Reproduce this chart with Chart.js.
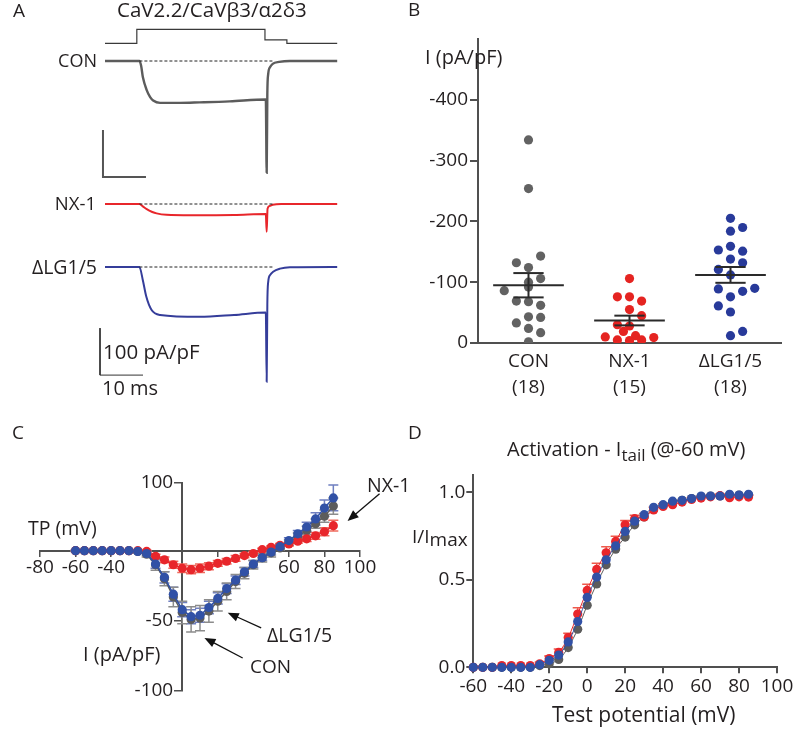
<!DOCTYPE html>
<html>
<head>
<meta charset="utf-8">
<title>CaV2.2/CaVβ3/α2δ3 currents</title>
<script src="https://cdn.jsdelivr.net/npm/chart.js@4.4.1/dist/chart.umd.min.js"></script>
<style>
  html, body { margin: 0; padding: 0; background: #fff; }
  body { position: relative; width: 800px; height: 737px; overflow: hidden; font-family: 'Open Sans', sans-serif; color: #231f20; }
  canvas { position: absolute; }
  .lbl { position: absolute; white-space: nowrap; }
  .lbl sub { font-size: 0.85em; vertical-align: -0.28em; line-height: 0; }
</style>
</head>
<body>
<canvas id="panelA" width="400" height="400" style="left:0;top:0"></canvas>
<canvas id="panelB" width="400" height="400" style="left:400px;top:0"></canvas>
<canvas id="panelC" width="400" height="337" style="left:0;top:400px"></canvas>
<canvas id="panelD" width="400" height="337" style="left:400px;top:400px"></canvas>
<script>
// ---------------- data ----------------

// A: example traces, time (ms) / current density (pA/pF)
const conTraceMs = [0, 8, 8.4, 8.8, 9.7, 10.5, 11.2, 12.8, 17.4, 22, 29, 37.4, 37.6, 37.75, 37.95, 38.4, 39, 40.5, 43, 54];
const conTracePA = [0, 0, -10, -34, -62, -77, -84, -89, -89, -88, -86, -82, -238, -70, -28, -13, -6, -2, 0, 0];
const nxTraceMs = [0, 8, 8.8, 9.7, 11, 12, 14.3, 20, 30, 37.4, 37.6, 37.8, 38.3, 39, 41, 54];
const nxTracePA = [0, 0, -5, -11, -17, -20, -23, -24, -23.5, -21.5, -59, -10, -4, -1.5, 0, 0];
const lgTraceMs = [0, 8, 8.8, 9.6, 10.8, 12.8, 22, 30, 37.4, 37.6, 37.75, 37.95, 38.4, 39.1, 40.7, 43, 54];
const lgTracePA = [0, 0, -28, -63, -91, -102, -106, -102, -97, -244, -80, -32, -17, -10, -3.5, -0.5, 0];
// voltage protocol (mV)
const stepMs = [0, 7.4, 7.4, 37.2, 37.2, 42.3, 42.3, 54];
const stepMV = [-80, -80, 0, 0, -60, -60, -80, -80];
const barMs = 10, barPA = 100;

// B: peak current density per cell
const groups = ['CON', 'NX-1', 'ΔLG1/5'];
const groupN = [18, 15, 18];
const conValues = [-334, -254, -143, -132, -124, -106, -100, -92, -86, -69, -68, -62, -43, -42, -33, -24, -17, -2];
const nxValues = [-106, -76, -76, -69, -55, -45, -30, -28, -19, -12, -10, -9, -5, -4, -5];
const lgValues = [-205, -190, -184, -159, -153, -151, -138, -132, -121, -112, -90, -89, -85, -76, -61, -51, -19, -12];
const groupMeans = [-95, -37, -112];
const groupSems = [20, 8, 13];
const bTicks = [0, -100, -200, -300, -400];

// C: I-V relation
const testMV = [-60, -55, -50, -45, -40, -35, -30, -25, -20, -15, -10, -5, 0, 5, 10, 15, 20, 25, 30, 35, 40, 45, 50, 55, 60, 65, 70, 75, 80, 85];
const ivCon = [0, 0, 0, 0, 0, 0, 0, -0.5, -2.5, -10, -20, -33, -44, -49, -48, -43, -36, -29, -22, -16, -10, -5, -1.5, 4, 12, 21, 30, 40, 51, 66];
const ivConSem = [0.5, 0.5, 0.5, 0.5, 0.5, 0.5, 0.5, 1, 2, 4, 5, 7, 8, 9, 9, 8, 7, 6, 5, 4, 3, 3, 3, 3, 4, 5, 6, 7, 9, 12];
const ivNx = [0, 0, 0, 0, 0, 0, 0, 0, -0.5, -4, -6.5, -10, -12.5, -13.5, -12.5, -11, -9, -7.5, -5.5, -3.5, -2, 1.5, 5, 8, 10, 14, 17.5, 22, 28, 37];
const ivNxSem = [0.3, 0.3, 0.3, 0.3, 0.3, 0.3, 0.3, 0.5, 1, 1.5, 2, 2.5, 3, 3, 3, 2.5, 2, 2, 2, 1.5, 1.5, 2, 2, 2.5, 3, 3, 4, 5, 6, 8];
const ivLg = [0, 0, 0, 0, 0, 0, 0, -0.5, -2, -9.5, -19, -31, -42, -47, -46, -40.5, -34, -27, -21, -15, -9.5, -5, -1, 6, 15, 25, 35, 47, 63, 78];
const ivLgSem = [0.5, 0.5, 0.5, 0.5, 0.5, 0.5, 0.5, 1, 1.5, 3, 4, 5, 5, 5, 5, 4.5, 4, 3.5, 3, 3, 2.5, 2, 2, 3, 4, 5, 7, 9, 12, 19];
const cTicksX = [-80, -60, -40, -20, 20, 40, 60, 80, 100];
const cTickLabelsX = [-80, -60, -40, 60, 80, 100];
const cTicksY = [100, -50, -100];

// D: activation (tail current at -60 mV)
const actCon = [0, 0, 0, 0, 0, 0, 0, 0.01, 0.02, 0.045, 0.113, 0.218, 0.355, 0.477, 0.586, 0.676, 0.745, 0.815, 0.86, 0.905, 0.925, 0.945, 0.955, 0.965, 0.975, 0.98, 0.98, 0.985, 0.985, 0.985];
const actNx = [0, 0, 0, 0.01, 0.01, 0.01, 0.01, 0.02, 0.05, 0.085, 0.17, 0.305, 0.44, 0.56, 0.655, 0.72, 0.815, 0.85, 0.86, 0.9, 0.92, 0.93, 0.945, 0.96, 0.968, 0.975, 0.982, 0.97, 0.975, 0.974];
const actNxSem = [0, 0, 0, 0, 0, 0, 0, 0.01, 0.015, 0.02, 0.025, 0.035, 0.035, 0.035, 0.035, 0.03, 0.025, 0.02, 0.02, 0.015, 0.015, 0.01, 0.01, 0.01, 0.01, 0.01, 0.01, 0.01, 0.01, 0.01];
const actLg = [0, 0, 0, 0, 0, 0, 0, 0.015, 0.04, 0.07, 0.145, 0.262, 0.4, 0.516, 0.615, 0.695, 0.777, 0.836, 0.873, 0.915, 0.93, 0.95, 0.955, 0.965, 0.98, 0.98, 0.98, 0.99, 0.985, 0.99];
const dTicksX = [-60, -40, -20, 0, 20, 40, 60, 80, 100];
const dTicksY = [0, 0.5, 1];

// ---------------- style ----------------
const ink = '#231f20';
const axisInk = '#505050';
const grey = '#5c5c5c', red = '#e8262b', blue = '#3151a6';
Chart.defaults.font.family = "'Open Sans', sans-serif";
Chart.defaults.font.size = 19;
Chart.defaults.color = ink;
Chart.defaults.animation = false;
Chart.defaults.responsive = false;
Chart.defaults.plugins.legend.display = false;
Chart.defaults.plugins.tooltip.enabled = false;
const flatTicks = { autoSkip: false, maxRotation: 0, minRotation: 0 };

const xy = (xs, ys) => xs.map((x, i) => ({ x: x, y: ys[i] }));

// y axis that is scaled differently above and below zero (as in panel C)
class SplitLinearScale extends Chart.LinearScale {
  getPixelForValue(value) {
    const p = this.options.pivot;
    const dec = value < 0 ? p * (value - this.min) / -this.min : p + (1 - p) * value / this.max;
    return this.getPixelForDecimal(dec);
  }
  getValueForPixel(pixel) {
    const p = this.options.pivot, dec = this.getDecimalForPixel(pixel);
    return dec < p ? this.min - this.min * dec / p : this.max * (dec - p) / (1 - p);
  }
}
SplitLinearScale.id = 'splitLinear';
Chart.register(SplitLinearScale);

const errorBars = {
  id: 'errorBars',
  beforeDatasetsDraw(chart) {
    const ctx = chart.ctx;
    chart.data.datasets.forEach((ds, i) => {
      if (!ds.errors) return;
      const meta = chart.getDatasetMeta(i);
      const ys = chart.scales[meta.yAxisID];
      ctx.save();
      ctx.strokeStyle = ds.errorColor;
      ctx.lineWidth = 1.5;
      meta.data.forEach((pt, j) => {
        const e = ds.errors[j];
        if (!e) return;
        const v = ds.data[j].y;
        const top = ys.getPixelForValue(v + e);
        const bot = ys.getPixelForValue(ds.upOnly ? v : v - e);
        ctx.beginPath();
        ctx.moveTo(pt.x, top); ctx.lineTo(pt.x, bot);
        ctx.moveTo(pt.x - 5, top); ctx.lineTo(pt.x + 5, top);
        if (!ds.upOnly) { ctx.moveTo(pt.x - 5, bot); ctx.lineTo(pt.x + 5, bot); }
        ctx.stroke();
      });
      ctx.restore();
    });
  }
};

// ---------------- A ----------------
const pxPerMs = 4.3, pxPerPA = 0.47, pxPerMV = 0.175;
function hiddenY(basePx, pxPerUnit, baseValue) {
  const max = baseValue + basePx / pxPerUnit;
  return { type: 'linear', axis: 'y', display: false, min: max - 400 / pxPerUnit, max: max };
}
const traceLine = (data, axis, color, width) => ({
  data: data, yAxisID: axis, borderColor: color, borderWidth: width,
  pointRadius: 0, cubicInterpolationMode: 'monotone', clip: false
});
const dashed = axis => ({
  data: xy([8, 39], [0, 0]), yAxisID: axis, borderColor: '#222', borderWidth: 1,
  borderDash: [3, 2], pointRadius: 0
});
const scaleBar = (axis, t0, i0, color, width) => ({
  data: xy([t0, t0, t0 + barMs], [i0, i0 - barPA, i0 - barPA]), yAxisID: axis,
  borderColor: color, borderWidth: width, pointRadius: 0, tension: 0
});

new Chart(document.getElementById('panelA'), {
  type: 'line',
  data: {
    datasets: [
      dashed('yCon'), dashed('yNx'), dashed('yLg'),
      traceLine(xy(conTraceMs, conTracePA), 'yCon', grey, 2.4),
      traceLine(xy(nxTraceMs, nxTracePA), 'yNx', red, 2),
      traceLine(xy(lgTraceMs, lgTracePA), 'yLg', '#353d9a', 2),
      { data: xy(stepMs, stepMV), yAxisID: 'yStep', borderColor: '#3a3a3a', borderWidth: 1.2, pointRadius: 0, tension: 0 },
      scaleBar('yCon', -0.47, -147, '#555', 2),
      scaleBar('yLg', -1.16, -130, '#333', 1)
    ]
  },
  options: {
    layout: { padding: 0 },
    scales: {
      x: { type: 'linear', display: false, min: -105 / pxPerMs, max: -105 / pxPerMs + 400 / pxPerMs },
      yCon: hiddenY(61, pxPerPA, 0),
      yNx: hiddenY(204, pxPerPA, 0),
      yLg: hiddenY(267, pxPerPA, 0),
      yStep: hiddenY(43.3, pxPerMV, -80)
    }
  }
});

// ---------------- B ----------------
const conSpread = [0, 0, 0.12, -0.12, 0, 0.12, 0, 0, -0.24, -0.12, 0, 0.12, 0, 0.12, -0.12, 0, 0.12, 0];
const nxSpread = [0, -0.12, 0, 0.12, 0, 0.12, -0.12, 0, -0.06, 0.06, -0.24, 0.24, -0.12, 0, 0.12];
const lgSpread = [0, 0.12, 0, 0, -0.12, 0.12, 0, 0.12, -0.12, 0, 0.24, -0.12, 0.12, 0, -0.12, 0, 0.12, 0];
const dots = (vals, spread, group, color) => ({
  data: vals.map((v, i) => ({ x: group + spread[i], y: v })),
  backgroundColor: color, borderWidth: 0, pointRadius: 4.6
});

const meanSem = {
  id: 'meanSem',
  afterDatasetsDraw(chart) {
    const { ctx, scales: { x, y } } = chart;
    const seg = (x1, y1, x2, y2) => {
      ctx.beginPath();
      ctx.moveTo(x.getPixelForValue(x1), y.getPixelForValue(y1));
      ctx.lineTo(x.getPixelForValue(x2), y.getPixelForValue(y2));
      ctx.stroke();
    };
    ctx.save();
    ctx.strokeStyle = '#2a2a2a';
    ctx.lineWidth = 2;
    groupMeans.forEach((m, i) => {
      const c = i + 1, s = groupSems[i];
      seg(c - 0.35, m, c + 0.35, m);
      seg(c, m - s, c, m + s);
      seg(c - 0.15, m - s, c + 0.15, m - s);
      seg(c - 0.15, m + s, c + 0.15, m + s);
    });
    ctx.restore();
  }
};

new Chart(document.getElementById('panelB'), {
  type: 'scatter',
  data: {
    datasets: [
      dots(conValues, conSpread, 1, '#626262'),
      dots(nxValues, nxSpread, 2, '#e52421'),
      dots(lgValues, lgSpread, 3, '#283a9a')
    ]
  },
  options: {
    layout: { padding: { top: 39, right: 19, left: 0, bottom: 0 } },
    scales: {
      x: {
        type: 'linear', min: 0.5, max: 3.5,
        afterFit: s => { s.height = 57; },
        afterBuildTicks: s => { s.ticks = groups.map((g, i) => ({ value: i + 1 })); },
        ticks: { ...flatTicks, padding: 6, font: { lineHeight: 1.35 }, callback: v => [groups[v - 1], '(' + groupN[v - 1] + ')'] },
        grid: { display: false, drawTicks: false },
        border: { color: axisInk, width: 2 }
      },
      y: {
        min: -500, max: 0, reverse: true,
        afterFit: s => { s.width = 78; },
        afterBuildTicks: s => { s.ticks = bTicks.map(v => ({ value: v })); },
        ticks: { ...flatTicks, padding: 2 },
        grid: { drawOnChartArea: false, tickLength: 8, color: axisInk, lineWidth: 2 },
        border: { color: axisInk, width: 2 }
      }
    }
  },
  plugins: [meanSem]
});

// ---------------- C ----------------
const cArrows = [
  { tail: [111, 84], head: [93, 44] },
  { tail: [44.4, -55], head: [25.6, -44.2] },
  { tail: [34, -76.5], head: [12.5, -62.2] }
];
const arrowsAndYLabels = {
  id: 'arrowsAndYLabels',
  afterDraw(chart) {
    const { ctx, scales: { x, y } } = chart;
    ctx.save();
    ctx.font = "19px 'Open Sans'";
    ctx.fillStyle = ink;
    ctx.textAlign = 'right';
    ctx.textBaseline = 'middle';
    const x0 = x.getPixelForValue(0);
    y.ticks.forEach(t => ctx.fillText(String(t.value), x0 - 9, y.getPixelForValue(t.value)));
    ctx.strokeStyle = '#111';
    ctx.fillStyle = '#111';
    ctx.lineWidth = 1.3;
    cArrows.forEach(a => {
      const tx = x.getPixelForValue(a.tail[0]), ty = y.getPixelForValue(a.tail[1]);
      const hx = x.getPixelForValue(a.head[0]), hy = y.getPixelForValue(a.head[1]);
      const ang = Math.atan2(hy - ty, hx - tx);
      ctx.beginPath(); ctx.moveTo(tx, ty); ctx.lineTo(hx - 8 * Math.cos(ang), hy - 8 * Math.sin(ang)); ctx.stroke();
      ctx.beginPath();
      ctx.moveTo(hx, hy);
      ctx.lineTo(hx - 11 * Math.cos(ang) + 4.5 * Math.sin(ang), hy - 11 * Math.sin(ang) - 4.5 * Math.cos(ang));
      ctx.lineTo(hx - 11 * Math.cos(ang) - 4.5 * Math.sin(ang), hy - 11 * Math.sin(ang) + 4.5 * Math.cos(ang));
      ctx.closePath(); ctx.fill();
    });
    ctx.restore();
  }
};
const ivSet = (vals, sem, color, errColor) => ({
  data: xy(testMV, vals), errors: sem, errorColor: errColor,
  showLine: true, borderColor: color, borderWidth: 1.5, backgroundColor: color,
  pointRadius: 4.6, pointBorderWidth: 0, clip: false
});

new Chart(document.getElementById('panelC'), {
  type: 'scatter',
  data: {
    datasets: [
      ivSet(ivLg, ivLgSem, blue, '#6f7fc0'),
      ivSet(ivNx, ivNxSem, red, '#ef6b5e'),
      ivSet(ivCon, ivConSem, grey, '#8c8c8c')
    ]
  },
  options: {
    layout: { padding: { left: 40, right: 40, top: 83, bottom: 46 } },
    scales: {
      x: {
        type: 'linear', position: { y: 0 }, min: -80, max: 100,
        afterBuildTicks: s => { s.ticks = cTicksX.map(v => ({ value: v })); },
        ticks: { ...flatTicks, padding: 0, callback: v => cTickLabelsX.includes(v) ? String(v) : '' },
        grid: { drawOnChartArea: false, tickLength: 5, color: axisInk, lineWidth: 1.5 },
        border: { color: axisInk, width: 2 }
      },
      y: {
        type: 'splitLinear', axis: 'y', position: { x: 0 }, min: -100, max: 100, pivot: 0.6745,
        afterBuildTicks: s => { s.ticks = cTicksY.map(v => ({ value: v })); },
        ticks: { display: false },
        grid: { drawOnChartArea: false, tickLength: 7, color: axisInk, lineWidth: 1.5 },
        border: { color: axisInk, width: 2 }
      }
    }
  },
  plugins: [errorBars, arrowsAndYLabels]
});

// ---------------- D ----------------
const actSet = (vals, sem, color, errColor) => ({
  data: xy(testMV, vals), errors: sem, errorColor: errColor, upOnly: true,
  showLine: true, borderColor: color, borderWidth: 1, backgroundColor: color,
  pointRadius: 4.6, pointBorderWidth: 0, tension: 0.3, clip: false
});

new Chart(document.getElementById('panelD'), {
  type: 'scatter',
  data: {
    datasets: [
      actSet(actLg, null, blue),
      actSet(actNx, actNxSem, red, '#ee5a4c'),
      actSet(actCon, null, grey)
    ]
  },
  options: {
    layout: { padding: { top: 75, right: 23, left: 0, bottom: 0 } },
    scales: {
      x: {
        type: 'linear', min: -60, max: 100,
        afterFit: s => { s.height = 69.7; },
        afterBuildTicks: s => { s.ticks = dTicksX.map(v => ({ value: v })); },
        ticks: { ...flatTicks, padding: 2 },
        grid: { drawOnChartArea: false, tickLength: 6, color: axisInk, lineWidth: 2 },
        border: { color: axisInk, width: 2 }
      },
      y: {
        min: 0, max: 1.1,
        afterFit: s => { s.width = 73.3; },
        afterBuildTicks: s => { s.ticks = dTicksY.map(v => ({ value: v })); },
        ticks: { ...flatTicks, padding: 1, callback: v => v.toFixed(1) },
        grid: { drawOnChartArea: false, tickLength: 7, color: axisInk, lineWidth: 2 },
        border: { color: axisInk, width: 2 }
      }
    }
  },
  plugins: [errorBars]
});

// ---------------- text ----------------
// [html, x, centre y, font size, 'r' = right edge at x]
const texts = [
  ['A', 13, 11, 19], ['CaV2.2/CaVβ3/α2δ3', 117, 10, 20.5],
  ['CON', 97, 61, 18, 'r'], ['NX-1', 96, 204, 18.5, 'r'], ['ΔLG1/5', 97, 267, 19.5, 'r'],
  ['100 pA/pF', 103, 352, 20.5], ['10 ms', 102, 389, 20],
  ['B', 408, 10, 19], ['I (pA/pF)', 425, 58, 20],
  ['C', 12, 433, 19], ['TP (mV)', 28, 528, 19.5], ['I (pA/pF)', 83, 655, 20],
  ['NX-1', 367, 485, 19.5], ['ΔLG1/5', 267, 635, 19.5], ['CON', 250, 667, 19],
  ['D', 408, 433, 19], ['Activation - I<sub>tail</sub> (@-60 mV)', 507, 450, 20],
  ['I/I<span style="position:relative;top:3px">max</span>', 412, 537, 19],
  ['Test potential (mV)', 552, 715, 21]
];
texts.forEach(([html, x, cy, size, align]) => {
  const d = document.createElement('div');
  d.className = 'lbl';
  d.innerHTML = html;
  d.style.fontSize = size + 'px';
  d.style.lineHeight = size + 'px';
  d.style.top = (cy - 0.535 * size) + 'px';
  if (align === 'r') d.style.right = (800 - x) + 'px';
  else d.style.left = x + 'px';
  document.body.appendChild(d);
});
</script>
</body>
</html>
